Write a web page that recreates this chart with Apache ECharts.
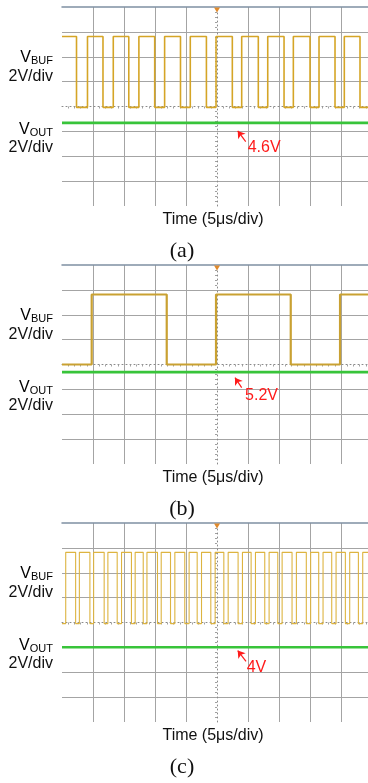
<!DOCTYPE html>
<html>
<head>
<meta charset="utf-8">
<script src="https://cdn.jsdelivr.net/npm/echarts@6/dist/echarts.min.js"></script>
<style>
html, body { margin: 0; background: #fff; }
#main { width: 368px; height: 783px; }
</style>
</head>
<body>
<div id="main"></div>
<script>
// time in us from trigger (screen centre), volts on a 2V/div screen, 0 = centre line
var xMin = -25, xMax = 24.35;
var yMin = -8, yMax = 8;

var panelNames = ['(a)', '(b)', '(c)'];
var voutTexts = ['4.6V', '5.2V', '4V'];

var bufHigh = [5.63, 5.63, 5.64];
var bufLow = [-0.07, 0, -0.09];
var voutLevel = [-1.32, -0.61, -1.99];
var bufStartsHigh = [true, false, false];

// edge times (us)
var riseA = [-20.89, -16.73, -12.6, -8.45, -4.31, -0.16, 3.98, 8.18, 12.31, 16.45, 20.53];
var fallA = [-22.66, -18.39, -14.23, -10.05, -5.89, -1.71, 2.47, 6.66, 10.81, 15.0, 19.03, 23.06];
var riseB = [-20.21, -0.16, 19.84];
var fallB = [-8.11, 11.89];
var riseC = [-24.4, -22.2, -19.9, -17.6, -15.4, -13.2, -11.3, -9.0, -6.8, -4.5, -2.5, -0.3,
             1.8, 4.1, 6.2, 8.4, 10.5, 12.8, 15.1, 17.1, 19.2, 21.4, 23.5];
var fallC = [-22.8, -20.5, -18.2, -16.1, -13.8, -11.9, -9.6, -7.5, -5.2, -3.2, -1.0,
             1.1, 3.4, 5.5, 7.7, 9.8, 12.1, 14.4, 16.4, 18.5, 20.7, 22.8];

var rises = [riseA, riseB, riseC];
var falls = [fallA, fallB, fallC];

// annotation arrows [t, v]
var arrowTip = [[3.34, -1.96], [2.9, -1.06], [3.34, -2.26]];
var arrowTail = [[4.63, -2.82], [3.98, -1.86], [4.68, -3.12]];
var labelAt = [[4.95, -3.28], [4.52, -2.48], [4.79, -3.62]];

// layout
var tops = [7, 265, 523];
var plotH = 199, plotLeft = 62;
var bufWidth = [1.6, 2.2, 1.1];
var bufColor = ['#d5a526', '#c9a132', '#ddb440'];
var gridGray = '#a4a4a4';

var chart = echarts.init(document.getElementById('main'));

function stepData(r, f, hi, lo, startHigh) {
    var edges = [];
    r.forEach(function (t) { edges.push([t, 1]); });
    f.forEach(function (t) { edges.push([t, 0]); });
    edges.sort(function (a, b) { return a[0] - b[0]; });
    var cur = startHigh ? hi : lo;
    var out = [[xMin, cur]];
    edges.forEach(function (e) {
        out.push([e[0], cur]);
        cur = e[1] ? hi : lo;
        out.push([e[0], cur]);
    });
    out.push([xMax, cur]);
    return out;
}

var xLineColors = ['transparent', gridGray, gridGray, gridGray, gridGray, 'transparent',
                   gridGray, gridGray, gridGray, gridGray, 'transparent'];
var yLineColors = ['transparent', gridGray, gridGray, gridGray, 'transparent',
                   gridGray, gridGray, gridGray, 'transparent'];

var grids = [], xAxes = [], topAxes = [], yAxes = [], series = [], graphics = [];
var sansFont = '"Liberation Sans", Arial, sans-serif';

for (var i = 0; i < 3; i++) {
    grids.push({ left: plotLeft, right: 0, top: tops[i], height: plotH });
    xAxes.push({
        gridIndex: i, type: 'value', min: xMin, max: xMax, interval: 5,
        axisLabel: { show: false },
        axisLine: { show: true, onZero: true, lineStyle: { color: '#8a8a8a', type: [1, 3], width: 1 } },
        axisTick: { show: false },
        minorTick: { show: true, splitNumber: 5, length: 2, lineStyle: { color: '#a0a0a0' } },
        splitLine: { show: true, showMaxLine: false, lineStyle: { color: xLineColors, width: 1 } }
    });
    topAxes.push({
        gridIndex: i, type: 'value', position: 'top', min: xMin, max: xMax,
        axisLabel: { show: false }, axisTick: { show: false }, splitLine: { show: false },
        axisLine: { show: true, onZero: false, lineStyle: { color: '#7f90a2', width: 1.5 } }
    });
    yAxes.push({
        gridIndex: i, type: 'value', min: yMin, max: yMax, interval: 2,
        axisLabel: { show: false },
        axisLine: { show: true, onZero: true, lineStyle: { color: '#8a8a8a', type: [1, 3], width: 1 } },
        axisTick: { show: false },
        minorTick: { show: true, splitNumber: 5, length: 2, lineStyle: { color: '#a0a0a0' } },
        splitLine: { show: true, lineStyle: { color: yLineColors, width: 1 } }
    });

    series.push({
        type: 'line', xAxisIndex: i, yAxisIndex: i, symbol: 'none', silent: true,
        data: stepData(rises[i], falls[i], bufHigh[i], bufLow[i], bufStartsHigh[i]),
        lineStyle: { color: bufColor[i], width: bufWidth[i] },
        markPoint: {
            silent: true, symbol: 'triangle', symbolRotate: 180, symbolSize: [6, 5],
            itemStyle: { color: '#e08a2c' }, label: { show: false },
            data: [{ coord: [0, yMax - 0.25] }]
        },
        z: 3
    });
    series.push({
        type: 'line', xAxisIndex: i, yAxisIndex: i, symbol: 'none', silent: true,
        data: [[xMin, voutLevel[i]], [xMax, voutLevel[i]]],
        lineStyle: { color: '#38c43a', width: 2.6 },
        markLine: {
            silent: true, symbol: ['none', 'arrow'], symbolSize: 7,
            lineStyle: { color: '#ff1a1a', width: 1.2, type: 'solid' },
            label: { show: false },
            data: [[{ coord: arrowTail[i] }, { coord: arrowTip[i] }]]
        },
        markPoint: {
            silent: true, symbol: 'circle', symbolSize: 0,
            label: {
                show: true, position: 'right', distance: 0, formatter: voutTexts[i],
                color: '#ff1a1a', fontSize: 16, fontFamily: sansFont
            },
            data: [{ coord: labelAt[i] }]
        },
        z: 4
    });

    var T = tops[i];
    var rich = {
        v: { fontSize: 16, fontFamily: sansFont, color: '#111', lineHeight: 18, verticalAlign: 'bottom' },
        s: { fontSize: 11, fontFamily: sansFont, color: '#111', lineHeight: 11, verticalAlign: 'bottom' }
    };
    graphics.push({ type: 'text', style: { text: '{v|V}{s|BUF}', rich: rich, x: 53, y: T + 50, align: 'right', verticalAlign: 'middle' } });
    graphics.push({ type: 'text', style: { text: '2V/div', x: 53, y: T + 70, align: 'right', verticalAlign: 'middle', font: '16px ' + sansFont, fill: '#111' } });
    graphics.push({ type: 'text', style: { text: '{v|V}{s|OUT}', rich: rich, x: 53, y: T + 122, align: 'right', verticalAlign: 'middle' } });
    graphics.push({ type: 'text', style: { text: '2V/div', x: 53, y: T + 141, align: 'right', verticalAlign: 'middle', font: '16px ' + sansFont, fill: '#111' } });
    graphics.push({ type: 'text', style: { text: 'Time (5\u03bcs/div)', x: 213, y: T + 213, align: 'center', verticalAlign: 'middle', font: '16px ' + sansFont, fill: '#111' } });
    graphics.push({ type: 'text', style: { text: panelNames[i], x: 182, y: T + 244, align: 'center', verticalAlign: 'middle', font: '22px "Liberation Serif", "Times New Roman", serif', fill: '#111' } });
}

chart.setOption({
    animation: false,
    backgroundColor: '#fff',
    grid: grids,
    xAxis: xAxes.concat(topAxes),
    yAxis: yAxes,
    series: series,
    graphic: graphics
});
</script>
</body>
</html>
